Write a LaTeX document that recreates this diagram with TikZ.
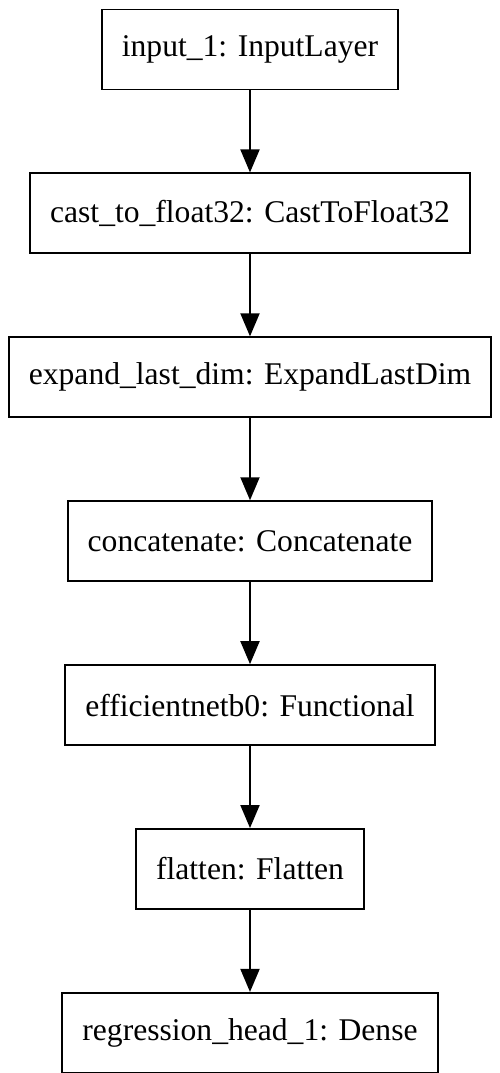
\documentclass[tikz,border=0pt]{standalone}
\usepackage{fontspec}
\setmainfont{Liberation Serif}
\usetikzlibrary{positioning,arrows.meta}

\begin{document}
\begin{tikzpicture}[x=1pt, y=1pt,
    layer/.style={draw, line width=1.9pt, minimum height=80pt, inner xsep=20pt,
                  font=\fontsize{31.6}{38}\selectfont},
    flow/.style={line width=1.9pt, -{Triangle[length=23pt, width=19pt]}},
    node distance=82pt]
  % margenes
  \useasboundingbox (0,0) rectangle (500,-1073);

  % capas del modelo
  \node[layer] (inp) at (250,-49.5) {input\_1: InputLayer};
  \node[layer, below=of inp] (cast) {cast\_to\_float32: CastToFloat32};
  \node[layer, below=of cast] (expd) {expand\_last\_dim: ExpandLastDim};
  \node[layer, below=of expd] (conc) {concatenate: Concatenate};
  \node[layer, below=of conc] (effn) {efficientnetb0: Functional};
  \node[layer, below=of effn] (flat) {flatten: Flatten};
  \node[layer, below=of flat] (head) {regression\_head\_1: Dense};

  % flechas
  \draw[flow] (inp) -- (cast);
  \draw[flow] (cast) -- (expd);
  \draw[flow] (expd) -- (conc);
  \draw[flow] (conc) -- (effn);
  \draw[flow] (effn) -- (flat);
  \draw[flow] (flat) -- (head);
\end{tikzpicture}
\end{document}
